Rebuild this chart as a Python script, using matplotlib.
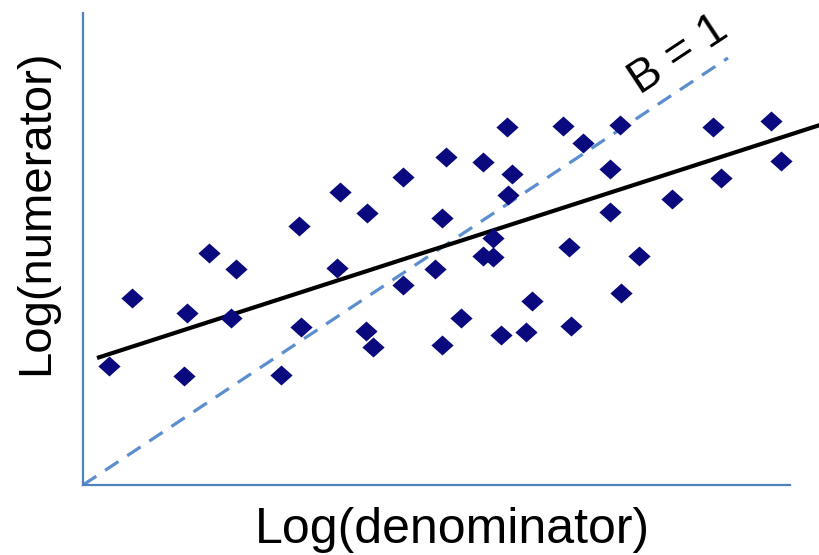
import matplotlib
matplotlib.use("Agg")
from matplotlib import pyplot as plt

# scatter points (log denominator, log numerator)
log_den = [2.6, 4.9, 10.1, 10.4, 12.6, 14.8, 15.3, 19.8, 21.6, 21.8,
           25.4, 25.7, 28.3, 28.4, 29.0, 32.0, 32.0, 36.3, 35.9, 35.2,
           35.9, 40.0, 42.4, 42.9, 42.5, 41.0, 40.0, 41.0, 48.0, 50.0,
           53.7, 52.7, 52.7, 48.6, 55.6, 58.9, 63.0, 63.8, 68.8, 69.8,
           53.8, 44.9, 37.8, 41.8, 44.3, 48.8]
log_num = [11.9, 18.7, 10.9, 17.2, 23.2, 16.7, 21.6, 11.0, 25.9, 15.8,
           21.7, 29.3, 15.4, 27.2, 13.8, 30.8, 20.0, 32.8, 26.7, 21.6,
           14.0, 32.3, 35.8, 31.1, 29.0, 24.7, 22.9, 22.8, 35.9, 34.2,
           36.0, 31.6, 27.3, 23.8, 22.9, 28.6, 35.8, 30.7, 36.4, 32.4,
           19.2, 18.4, 16.7, 15.0, 15.3, 15.9]

# fitted line and the B = 1 reference line (end points)
fit_x = [1.4, 73.7]
fit_y = [12.7, 36.0]
ref_x = [0.0, 64.5]
ref_y = [0.0, 42.7]

fig = plt.figure(figsize=(8.2, 5.55), dpi=100)
ax = fig.add_axes([0.1012, 0.1261, 0.8988, 0.8559])

ax.plot(ref_x, ref_y, color="#5a8ecf", lw=2.3, dashes=(5, 3.3), zorder=2)
ax.plot(fit_x, fit_y, color="black", lw=3, solid_capstyle="butt", zorder=3)

# slightly flattened diamond
diamond = [(-1, 0), (0, 0.9), (1, 0), (0, -0.9), (-1, 0)]
ax.scatter(log_den, log_num, marker=diamond, s=16 ** 2, color="#0a0a7e",
           linewidths=0, zorder=4)

ax.text(59.6, 43.0, "B = 1", rotation=33.5, rotation_mode="anchor",
        ha="center", va="center", fontsize=33, family="Liberation Sans")

ax.set_xlim(0, 73.7)
ax.set_ylim(0, 47.5)
for side in ["top", "right"]:
    ax.spines[side].set_visible(False)
for side in ["left", "bottom"]:
    ax.spines[side].set_color("#4f81bd")
    ax.spines[side].set_linewidth(1.6)
ax.spines["left"].set_bounds(0, 47.2)
ax.spines["bottom"].set_bounds(0, 70.7)
ax.set_xticks([])
ax.set_yticks([])

fig.text(452 / 820, 1 - 530 / 555, "Log(denominator)", ha="center",
         va="center", fontsize=36, family="Liberation Sans")
fig.text(36 / 820, 1 - 212 / 555, "Log(numerator)", ha="center",
         va="center", rotation=90, fontsize=34, family="Liberation Sans")

fig.savefig("out.png", dpi=100)
